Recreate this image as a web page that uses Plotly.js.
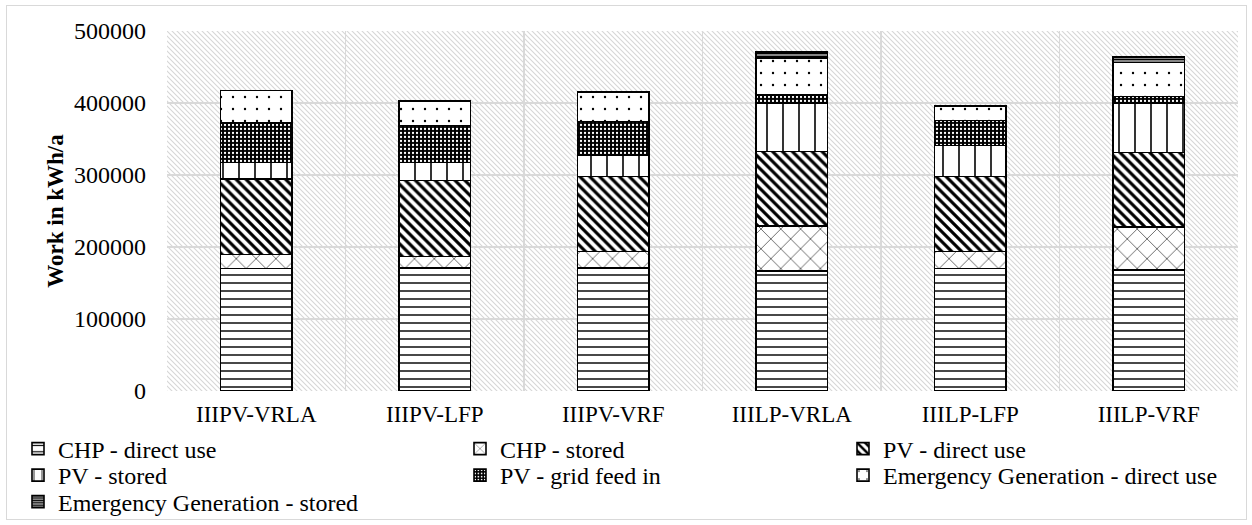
<!DOCTYPE html>
<html>
<head>
<meta charset="utf-8">
<script src="https://cdn.plot.ly/plotly-3.0.1.min.js"></script>
<style>
  html, body { margin: 0; padding: 0; background: #ffffff; }
  #frame { position: absolute; left: 6px; top: 5px; width: 1241px; height: 515px; border: 1px solid #d9d9d9; box-sizing: border-box; }
  #chart { position: absolute; left: 0; top: 0; width: 1252px; height: 525px; }
</style>
</head>
<body>
<div id="frame"></div>
<div id="chart"></div>
<script>
// ---- data ----
const categories = ['IIIPV-VRLA', 'IIIPV-LFP', 'IIIPV-VRF', 'IIILP-VRLA', 'IIILP-LFP', 'IIILP-VRF'];
const chpDirect  = [170000, 171000, 171000, 166300, 170000, 167700];
const chpStored  = [19500, 16000, 23000, 62500, 24000, 60200];
const pvDirect   = [105000, 105100, 104000, 104000, 104000, 103600];
const pvStored   = [23000, 25500, 30000, 67200, 43000, 68500];
const pvGrid     = [54600, 51000, 46300, 11500, 34700, 9200];
const egDirect   = [45000, 34000, 40700, 51400, 20400, 47000];
const egStored   = [0, 0, 0, 8300, 0, 8000];
const seriesNames = ['CHP - direct use', 'CHP - stored', 'PV - direct use', 'PV - stored',
                     'PV - grid feed in', 'Emergency Generation - direct use', 'Emergency Generation - stored'];
const yTicks = [0, 100000, 200000, 300000, 400000, 500000];

// ---- styles ----
const FONT = 'Liberation Serif, Times New Roman, serif';
const outline = { color: '#000000', width: 1.6 };
const patterns = [
  { shape: '-',  fgcolor: '#000', bgcolor: '#fff', size: 8,  solidity: 0.18 },
  { shape: 'x',  fgcolor: '#000', bgcolor: '#fff', size: 14, solidity: 0.08 },
  { shape: '\\', fgcolor: '#000', bgcolor: '#fff', size: 7,  solidity: 0.45 },
  { shape: '|',  fgcolor: '#000', bgcolor: '#fff', size: 16, solidity: 0.1 },
  { shape: '.',  fgcolor: '#fff', bgcolor: '#000', size: 4,  solidity: 0.25 },
  { shape: '.',  fgcolor: '#000', bgcolor: '#fff', size: 12, solidity: 0.03 },
  { shape: '-',  fgcolor: '#000', bgcolor: '#fff', size: 3,  solidity: 0.65 }
];
const values = [chpDirect, chpStored, pvDirect, pvStored, pvGrid, egDirect, egStored];
const legendIds = ['legend', 'legend2', 'legend3', 'legend4', 'legend5', 'legend6', 'legend7'];

const traces = values.map((v, i) => ({
  type: 'bar',
  name: seriesNames[i],
  x: categories,
  y: v,
  legend: legendIds[i],
  marker: { color: '#ffffff', line: outline, pattern: patterns[i] },
  hoverinfo: 'x+y+name'
}));

// plot-area geometry (px) used to place legends
const ML = 167, MR = 14, MT = 31, MB = 134, W = 1252, H = 525;
const PW = W - ML - MR, PH = H - MT - MB;
const px2x = p => (p - ML) / PW;
const py2y = p => (H - MB - p) / PH;

// plot-area background hatch
const svg = `<svg xmlns="http://www.w3.org/2000/svg" width="${PW}" height="${PH}" viewBox="0 0 ${PW} ${PH}" preserveAspectRatio="none">
<defs><pattern id="p" width="5" height="5" patternUnits="userSpaceOnUse">
<path d="M-1,-1 L6,6 M-1,4 L1,6 M4,-1 L6,1" stroke="#d6d6d6" stroke-width="1.1"/></pattern></defs>
<rect width="${PW}" height="${PH}" fill="url(#p)"/></svg>`;
const bgSrc = 'data:image/svg+xml;charset=utf-8,' + encodeURIComponent(svg);

const legendBase = {
  orientation: 'v', traceorder: 'normal', bgcolor: 'rgba(0,0,0,0)',
  font: { family: FONT, size: 24, color: '#000' },
  xanchor: 'left', yanchor: 'middle', itemclick: false, itemdoubleclick: false
};
// text-start x (px) of each legend column and row centres (px)
const colText = [58, 500, 883];
const rowY = [449, 475.5, 502];
const legendPos = [[0, 0], [1, 0], [2, 0], [0, 1], [1, 1], [2, 1], [0, 2]];

const layout = {
  width: W, height: H,
  margin: { l: ML, r: MR, t: MT, b: MB, autoexpand: false },
  paper_bgcolor: 'rgba(0,0,0,0)',
  plot_bgcolor: 'rgba(0,0,0,0)',
  barmode: 'stack',
  bargap: 0.6,
  font: { family: FONT, color: '#000' },
  showlegend: true,
  xaxis: {
    type: 'category',
    tickson: 'boundaries',
    ticks: '',
    showgrid: true, gridcolor: '#d9d9d9', gridwidth: 1.5,
    showline: false, zeroline: false,
    tickfont: { family: FONT, size: 23, color: '#000' },
    ticklabelstandoff: 7
  },
  yaxis: {
    range: [0, 500000],
    tickvals: yTicks,
    tickformat: 'd',
    ticks: '',
    showgrid: true, gridcolor: '#d9d9d9', gridwidth: 1.5,
    zeroline: false, showline: false,
    tickfont: { family: FONT, size: 24, color: '#000' },
    ticklabelstandoff: 20,
    title: { text: '<b>Work in kWh/a</b>', font: { family: FONT, size: 23, color: '#000' }, standoff: 3 }
  },
  images: [{
    source: bgSrc, xref: 'paper', yref: 'paper', x: 0, y: 1, sizex: 1, sizey: 1,
    xanchor: 'left', yanchor: 'top', sizing: 'stretch', layer: 'below'
  }]
};
legendIds.forEach((id, i) => {
  const [c, r] = legendPos[i];
  layout[id] = Object.assign({}, legendBase, { x: px2x(colText[c] - 40), y: py2y(rowY[r]) });
});

Plotly.newPlot('chart', traces, layout, { displayModeBar: false, staticPlot: true });
</script>
</body>
</html>
